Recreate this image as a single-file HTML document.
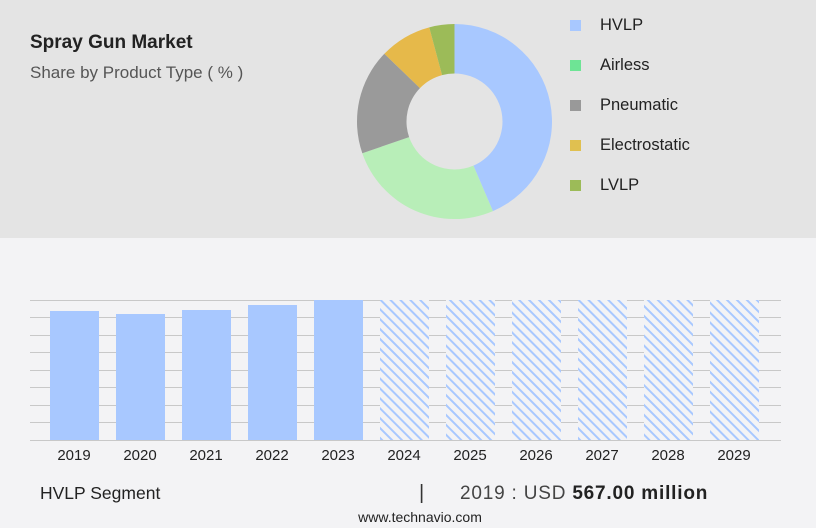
<!DOCTYPE html>
<html><head><style>
body{margin:0;width:816px;height:528px;position:relative;background:#f3f3f5;font-family:"Liberation Sans",sans-serif;overflow:hidden}
.top{position:absolute;left:0;top:0;width:816px;height:238px;background:#e4e4e4}
.t{position:absolute;white-space:nowrap}
</style></head><body>
<div class="top"></div>
<div class="t" style="left:30px;top:32px;font-size:19px;font-weight:bold;color:#222">Spray Gun Market</div>
<div class="t" style="left:30px;top:63px;font-size:17px;color:#555">Share by Product Type ( % )</div>
<svg width="816" height="528" style="position:absolute;left:0;top:0">
<g id="donut"></g>
<g font-size="16.5" fill="#222" font-family="Liberation Sans">
<rect x="570" y="20" width="11" height="11" fill="#a8c8ff"/><text x="600" y="30">HVLP</text>
<rect x="570" y="60" width="11" height="11" fill="#6ee495"/><text x="600" y="70">Airless</text>
<rect x="570" y="100" width="11" height="11" fill="#999"/><text x="600" y="110">Pneumatic</text>
<rect x="570" y="140" width="11" height="11" fill="#e0c050"/><text x="600" y="150">Electrostatic</text>
<rect x="570" y="180" width="11" height="11" fill="#9cbb58"/><text x="600" y="190">LVLP</text>
</g>
<defs><pattern id="h" width="7" height="7" patternUnits="userSpaceOnUse" patternTransform="rotate(-45)"><rect width="7" height="7" fill="#f3f3f5"/><rect width="2" height="7" fill="#a8c8ff"/></pattern></defs>
<g stroke="#c8c8c8" stroke-width="1">
<line x1="30" x2="781" y1="300.5" y2="300.5"/><line x1="30" x2="781" y1="317.5" y2="317.5"/><line x1="30" x2="781" y1="335.5" y2="335.5"/><line x1="30" x2="781" y1="352.5" y2="352.5"/><line x1="30" x2="781" y1="370.5" y2="370.5"/><line x1="30" x2="781" y1="387.5" y2="387.5"/><line x1="30" x2="781" y1="405.5" y2="405.5"/><line x1="30" x2="781" y1="422.5" y2="422.5"/><line x1="30" x2="781" y1="440.5" y2="440.5"/>
</g>
<g fill="#a8c8ff">
<rect x="50" y="311" width="49" height="129"/><rect x="116" y="314" width="49" height="126"/><rect x="182" y="310" width="49" height="130"/><rect x="248" y="305" width="49" height="135"/><rect x="314" y="300" width="49" height="140"/>
</g>
<g fill="url(#h)">
<rect x="380" y="300" width="49" height="140"/><rect x="446" y="300" width="49" height="140"/><rect x="512" y="300" width="49" height="140"/><rect x="578" y="300" width="49" height="140"/><rect x="644" y="300" width="49" height="140"/><rect x="710" y="300" width="49" height="140"/>
</g>
<g font-size="15" fill="#222" text-anchor="middle" font-family="Liberation Sans">
<text x="74" y="460">2019</text><text x="140" y="460">2020</text><text x="206" y="460">2021</text><text x="272" y="460">2022</text><text x="338" y="460">2023</text><text x="404" y="460">2024</text><text x="470" y="460">2025</text><text x="536" y="460">2026</text><text x="602" y="460">2027</text><text x="668" y="460">2028</text><text x="734" y="460">2029</text>
</g>
<text x="40" y="499" font-size="17.5" fill="#222">HVLP Segment</text>
<text x="419" y="499" font-size="20" fill="#333">|</text>
<text x="460" y="499" font-size="19" fill="#444" letter-spacing="0.8">2019 : USD <tspan font-weight="bold" fill="#222">567.00 million</tspan></text>
<text x="420" y="522" font-size="14" fill="#222" text-anchor="middle">www.technavio.com</text>
</svg>
<script>
var cx=454.5,cy=121.5,R=97.5,r=48;
var s=[[0,156.8,"#a8c8ff"],[156.8,251,"#b8eeb8"],[251,314,"#9a9a9a"],[314,345,"#e6b94a"],[345,360,"#9cbb58"]];
function p(a,rad){a=a*Math.PI/180;return [cx+rad*Math.sin(a),cy-rad*Math.cos(a)];}
var h="";s.forEach(function(q){var a=p(q[0],R),b=p(q[1],R),c=p(q[1],r),d=p(q[0],r),l=q[1]-q[0]>180?1:0;
h+='<path fill="'+q[2]+'" d="M'+a+' A'+R+' '+R+' 0 '+l+' 1 '+b+' L'+c+' A'+r+' '+r+' 0 '+l+' 0 '+d+'Z"/>';});
document.getElementById("donut").innerHTML=h;
</script>
</body></html>
